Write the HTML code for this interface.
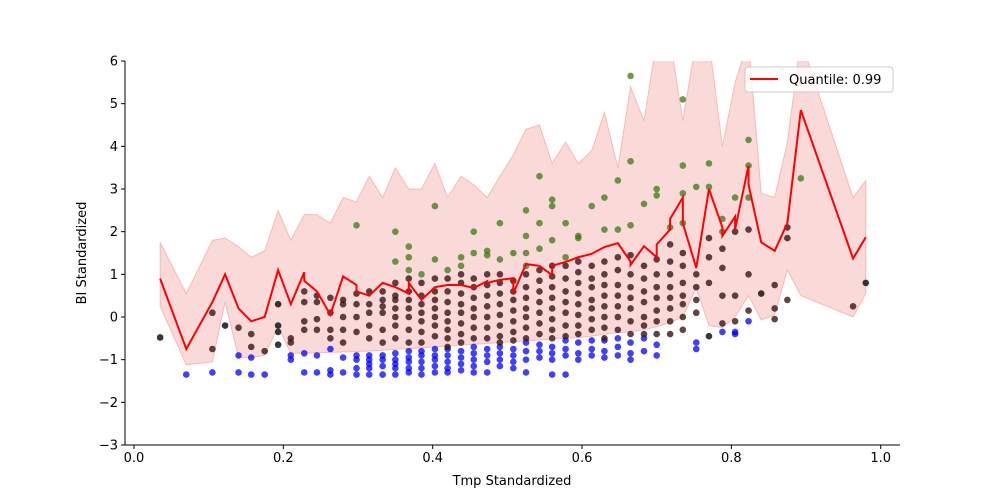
<!DOCTYPE html>
<html><head><meta charset="utf-8"><style>
html,body{margin:0;padding:0;background:#fff;}
svg{display:block;font-family:"DejaVu Sans","Liberation Sans",sans-serif;}
</style></head><body>
<svg id="chart" width="1000" height="500"></svg>
<script>
// ---- data ----
const quantX=[0.035,0.07,0.105,0.122,0.14,0.157,0.175,0.193,0.21,0.228,0.228,0.245,0.263,0.28,0.298,0.298,0.315,0.333,0.35,0.368,0.368,0.385,0.403,0.42,0.438,0.455,0.473,0.473,0.49,0.508,0.508,0.525,0.543,0.56,0.56,0.578,0.595,0.613,0.63,0.648,0.665,0.665,0.683,0.70,0.70,0.718,0.718,0.735,0.735,0.753,0.77,0.788,0.788,0.805,0.805,0.823,0.823,0.84,0.858,0.875,0.893,0.963,0.98];
const quantY=[0.9,-0.75,0.35,1.0,0.2,-0.1,0.0,1.1,0.3,1.05,0.85,0.6,0.05,0.95,0.75,0.6,0.5,0.8,0.7,0.55,0.8,0.4,0.7,0.75,0.75,0.68,0.84,0.8,0.87,0.91,0.56,1.24,1.2,0.98,1.2,1.29,1.4,1.48,1.64,1.73,1.3,1.22,1.66,1.4,1.7,2.05,2.3,2.8,2.2,1.15,3.0,2.1,1.9,2.35,2.05,3.55,3.1,1.75,1.55,2.2,4.85,1.37,1.87];
const bandX=[0.035,0.07,0.105,0.122,0.14,0.157,0.175,0.193,0.21,0.228,0.245,0.263,0.28,0.298,0.315,0.333,0.35,0.368,0.385,0.403,0.42,0.438,0.455,0.473,0.49,0.508,0.525,0.543,0.56,0.578,0.595,0.613,0.63,0.648,0.665,0.683,0.70,0.718,0.735,0.753,0.77,0.788,0.805,0.823,0.84,0.858,0.875,0.893,0.963,0.98];
const bandHi=[1.75,0.55,1.8,1.85,1.65,1.4,1.55,2.5,1.8,2.4,2.4,2.2,2.8,2.7,3.3,2.8,3.5,3.0,3.0,3.6,2.8,3.3,3.1,2.8,3.3,3.8,4.4,4.5,3.6,4.1,3.6,3.9,4.8,3.5,5.4,4.6,6.5,6.5,4.6,6.5,6.5,4.0,5.5,6.5,2.9,2.8,4.1,6.5,2.8,3.2];
const bandLo=[0.25,-1.12,-1.05,0.35,-0.95,-0.95,-0.9,-0.23,-0.85,-0.85,-0.84,-0.83,-0.82,-0.81,-0.8,-0.78,-0.76,-0.74,-0.72,-0.7,-0.68,-0.66,-0.64,-0.62,-0.6,-0.58,-0.56,-0.54,-0.52,-0.5,-0.48,-0.45,-0.4,-0.37,-0.35,-0.3,-0.23,-0.13,0.0,0.68,-0.2,-0.25,0.0,0.5,-0.07,0.05,1.1,0.5,0.0,0.55];
const colX=[0.035,0.07,0.105,0.122,0.14,0.157,0.175,0.193,0.21,0.228,0.245,0.263,0.28,0.298,0.315,0.333,0.35,0.368,0.385,0.403,0.42,0.438,0.455,0.473,0.49,0.508,0.525,0.543,0.56,0.578,0.595,0.613,0.63,0.648,0.665,0.683,0.70,0.718,0.735,0.753,0.77,0.788,0.805,0.823,0.84,0.858,0.875,0.893,0.963,0.98];
const blueY=[[],[-1.35],[-1.3],[],[-0.9,-1.3],[-1.35,-0.95],[-1.35],[],[-0.9,-1.0],[-0.85,-1.3],[-0.9,-1.3],[-0.75,-1.25,-1.35],[-0.95,-1.3],[-0.9,-1.0,-1.2,-1.35],[-0.9,-1.0,-1.1,-1.2,-1.35],[-0.9,-1.0,-1.15,-1.35],[-0.85,-1.0,-1.1,-1.2,-1.35],[-0.8,-0.95,-1.05,-1.2,-1.3],[-0.8,-0.9,-1.05,-1.2,-1.35],[-0.75,-0.9,-1.0,-1.15,-1.3],[-0.75,-0.9,-1.05,-1.2,-1.3],[-0.8,-0.95,-1.1,-1.25],[-0.7,-0.85,-1.0,-1.15,-1.3],[-0.75,-0.9,-1.05,-1.3],[-0.7,-0.85,-1.0,-1.15],[-0.75,-0.9,-1.05,-1.2],[-0.6,-0.8,-1.0,-1.3],[-0.65,-0.8,-0.95],[-0.7,-0.85,-1.0,-1.35],[-0.55,-0.75,-0.9,-1.35],[-0.6,-0.85,-1.0],[-0.55,-0.75,-0.9],[-0.55,-0.8,-0.95],[-0.5,-0.7,-0.9],[-0.6,-0.85,-1.0],[-0.5,-0.8],[-0.65,-0.9],[],[],[-0.6,-0.75],[],[-0.35],[-0.35,-0.4],[-0.1],[],[],[],[],[],[]];
const brownY=[[],[],[0.1,-0.75],[],[-0.25],[-0.4,-0.7],[-0.8],[],[-0.5,-0.6],[0.6,0.35,-0.1,-0.3],[0.5,0.35,-0.05,-0.3],[0.45,0.1,-0.3,-0.5],[0.4,0.3,0,-0.3,-0.6],[0.55,0.3,0,-0.35],[0.6,0.3,0.1,-0.2,-0.5],[0.6,0.4,0.25,0.1,-0.3,-0.6],[0.8,0.5,0.4,0.2,0,-0.2,-0.5],[0.9,0.6,0.4,0.2,0.0,-0.3,-0.6],[0.8,0.5,0.3,0.1,-0.1,-0.35,-0.6],[0.9,0.6,0.4,0.2,0,-0.2,-0.45],[0.9,0.6,0.35,0.1,-0.1,-0.3,-0.5,-0.7],[1.0,0.8,0.55,0.3,0.1,-0.15,-0.4,-0.6],[0.9,0.7,0.45,0.2,0,-0.25,-0.5],[1.0,0.75,0.5,0.25,0,-0.25,-0.5],[1.0,0.8,0.55,0.3,0.05,-0.2,-0.45,-0.6],[0.85,0.6,0.4,0.15,-0.1,-0.35,-0.55],[1.0,0.7,0.45,0.2,0,-0.25,-0.5],[1.1,0.85,0.6,0.35,0.1,-0.15,-0.4],[1.2,0.95,0.7,0.45,0.2,-0.05,-0.3,-0.5],[1.2,0.9,0.6,0.35,0.1,-0.2,-0.45],[1.3,1.05,0.8,0.55,0.3,0.05,-0.2,-0.4],[1.2,0.9,0.7,0.4,0.2,-0.05,-0.3],[1.3,1.0,0.75,0.5,0.25,0,-0.25,-0.5],[1.4,1.1,0.75,0.5,0.25,0,-0.3],[1.45,1.0,0.7,0.45,0.2,-0.1,-0.4],[1.2,0.9,0.6,0.35,0,-0.2,-0.4],[1.35,1.0,0.7,0.45,0.15,-0.1,-0.4],[1.7,1.3,1.0,0.7,0.45,0.2,-0.1,-0.4],[1.5,1.2,0.8,0.5,0.3,0.0,-0.3],[1.0,0.7,0.4,0.1],[1.85,1.4,0.8],[1.6,1.15,0.5,-0.15],[2.0,0.5,-0.1],[2.05,1.0,0.15],[],[0.75,0.2,-0.05],[2.1,1.85,0.4],[],[0.25],[]];
const greenY=[[],[],[],[],[],[],[],[],[],[],[],[],[],[2.15],[],[],[2.0,1.3],[1.65,1.4,1.1],[1.0],[2.6,1.35],[1.1],[1.4,1.2],[2.0,1.5],[1.55,1.45],[2.2,1.35],[1.5],[2.5,1.9,1.5,1.2],[3.3,2.2,1.6],[2.75,2.6,1.8],[2.2,1.4],[1.9,1.85],[2.6],[2.8,2.05],[3.2,2.05],[5.65,3.65,2.15],[2.65],[3.0,2.85],[2.1],[5.1,3.55,2.9,2.2],[3.05],[3.6,3.05],[2.3,2.0],[2.8],[4.15,3.55,2.8],[],[],[],[3.25],[],[]];
const blackY=[[-0.48],[],[],[-0.2],[],[],[],[0.3,-0.2,-0.35,-0.65],[],[],[],[],[],[],[],[],[],[],[],[],[],[],[],[],[],[],[],[],[],[],[],[],[],[],[],[],[],[],[],[],[-0.45],[],[],[],[0.55],[],[],[],[],[0.8]];
const xTicks=[0.0,0.2,0.4,0.6,0.8,1.0];
const xTickLabels=["0.0","0.2","0.4","0.6","0.8","1.0"];
const yTicks=[-3,-2,-1,0,1,2,3,4,5,6];
const yTickLabels=["\u22123","\u22122","\u22121","0","1","2","3","4","5","6"];

// ---- layout ----
const L=125,R=900,T=61,B=445;
const sx=v=>134+v*746.7;
const sy=v=>B-(v+3)*(B-T)/9;
const NS="http://www.w3.org/2000/svg";
const svg=document.getElementById('chart');
function mk(tag,attrs,parent){const e=document.createElementNS(NS,tag);for(const k in attrs)e.setAttribute(k,attrs[k]);(parent||svg).appendChild(e);return e;}

const defs=mk('defs',{});
const cp=mk('clipPath',{id:'clip'},defs);
mk('rect',{x:L,y:T,width:R-L,height:B-T},cp);
const plot=mk('g',{'clip-path':'url(#clip)'});



let d='M'+bandX.map((x,i)=>sx(x)+','+sy(bandHi[i])).join('L');
for(let i=bandX.length-1;i>=0;i--) d+='L'+sx(bandX[i])+','+sy(bandLo[i]);
d+='Z';
const band=mk('path',{d:d,fill:'rgba(240,128,128,0.3)',stroke:'rgba(240,128,128,0.45)','stroke-width':1},plot);



function pts(arr,color,name){
  const g=mk('g',{},plot);
  
  
  arr.forEach((ys,i)=>ys.forEach(y=>{
    const c=mk('circle',{cx:sx(colX[i]),cy:sy(y),r:3.3,fill:color},g);
    
    
  }));
}
pts(blueY,'rgba(0,0,255,0.75)','below-points');
pts(brownY,'rgba(60,20,20,0.8)','inside-points');
pts(greenY,'rgba(60,120,20,0.75)','above-points');
pts(blackY,'rgba(20,20,20,0.85)','other-points');

const line=mk('polyline',{points:quantX.map((x,i)=>sx(x)+','+sy(quantY[i])).join(' '),fill:'none',stroke:'#ff0000','stroke-width':2,'stroke-linejoin':'miter'},plot);



const ax=mk('g',{});


mk('line',{x1:L,y1:T,x2:L,y2:B,stroke:'#000','stroke-width':1},ax);
mk('line',{x1:L,y1:B,x2:R,y2:B,stroke:'#000','stroke-width':1},ax);
xTicks.forEach((v,i)=>{
  mk('line',{x1:sx(v),y1:B,x2:sx(v),y2:B+4,stroke:'#000'},ax);
  const t=mk('text',{x:sx(v),y:B+17,'text-anchor':'middle','font-size':13,fill:'#000'},ax);
  t.textContent=xTickLabels[i];
  
  
});
yTicks.forEach((v,i)=>{
  mk('line',{x1:L-4,y1:sy(v),x2:L,y2:sy(v),stroke:'#000'},ax);
  const t=mk('text',{x:L-7,y:sy(v)+4.5,'text-anchor':'end','font-size':13,fill:'#000'},ax);
  t.textContent=yTickLabels[i];
  
  
});
const xt=mk('text',{x:512,y:485,'text-anchor':'middle','font-size':13,fill:'#000'});
xt.textContent='Tmp Standardized';


const yt=mk('text',{x:86,y:253,'text-anchor':'middle','font-size':13,fill:'#000',transform:'rotate(-90 86 253)'});
yt.textContent='BI Standardized';



const lg=mk('g',{});


mk('rect',{x:745,y:67,width:148,height:25,rx:3,fill:'rgba(255,255,255,0.8)',stroke:'#ccc'},lg);
mk('line',{x1:750,y1:79,x2:778,y2:79,stroke:'#ff0000','stroke-width':2},lg);
const lt=mk('text',{x:789,y:84,'font-size':13,fill:'#000'},lg);
lt.textContent='Quantile: 0.99';


</script>
</body></html>
